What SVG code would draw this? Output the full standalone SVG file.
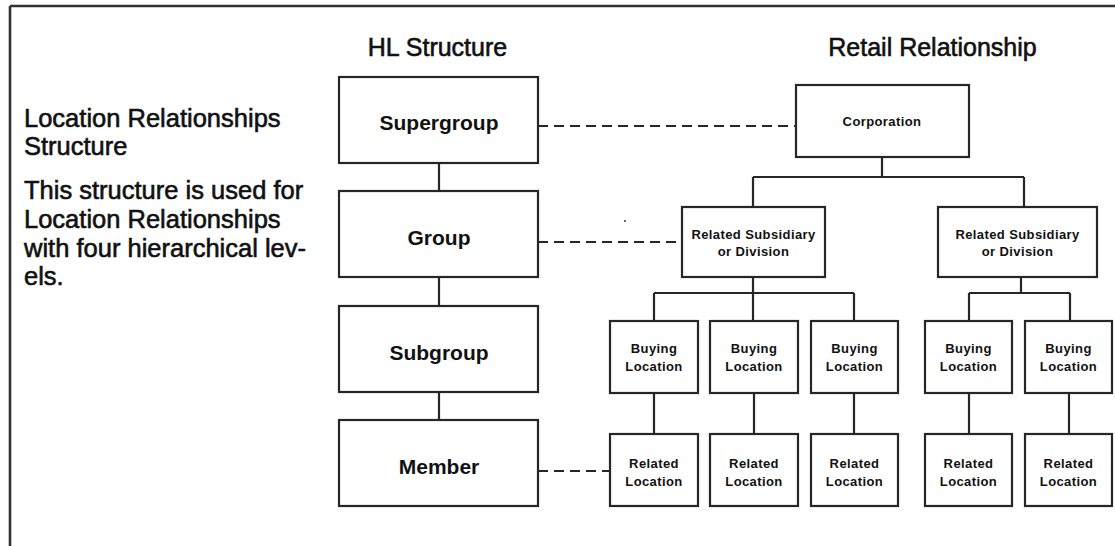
<svg xmlns="http://www.w3.org/2000/svg" width="1115" height="546" viewBox="0 0 1115 546">
<style>
.bx{fill:#fff;stroke:#262626;stroke-width:2.2}
.ln{fill:none;stroke:#262626;stroke-width:2.2}
.ds{fill:none;stroke:#262626;stroke-width:2.2;stroke-dasharray:10 6}
text{font-family:"Liberation Sans",Arial,sans-serif;fill:#111}
.hd{font-size:25px;stroke:#111;stroke-width:0.6}
.lt{font-size:25.5px;stroke:#111;stroke-width:0.6}
.big{font-size:21px;font-weight:bold;text-anchor:middle}
.sm{font-size:13px;font-weight:bold;text-anchor:middle;letter-spacing:0.4px}
</style>
<rect width="1115" height="546" fill="#fff"/>
<g id="frame">
<path d="M10 6H1115M10 6V546" fill="none" stroke="#333" stroke-width="2.6"/>
</g>
<g id="headers">
<text class="hd" x="437.5" y="56" text-anchor="middle">HL Structure</text>
<text class="hd" x="932.5" y="56" text-anchor="middle">Retail Relationship</text>
</g>
<g id="description">
<text class="lt" x="24" y="127">Location Relationships</text>
<text class="lt" x="24" y="155">Structure</text>
<text class="lt" x="24" y="199">This structure is used for</text>
<text class="lt" x="24" y="228">Location Relationships</text>
<text class="lt" x="24" y="257">with four hierarchical lev-</text>
<text class="lt" x="24" y="285">els.</text>
</g>
<g id="connectors">
<path class="ln" d="M439 163V191M439 277V306M439 392V420"/>
<path class="ds" d="M538 126H796M538 242H682M538 471H610"/>
<path class="ln" d="M882 157V177M753 177H1024M753 177V207M1024 177V207"/>
<path class="ln" d="M753 277V293M654 293H854M654 293V321M753 293V321M854 293V321"/>
<path class="ln" d="M1021 277V293M969 293H1070M969 293V321M1070 293V321"/>
<path class="ln" d="M654 393V434M754 393V434M854 393V434M969 393V434M1069 393V434"/>
<circle cx="625" cy="221" r="1" fill="#333"/>
</g>
<g id="supergroup"><rect class="bx" x="339" y="77" width="199" height="86"/><text class="big" x="439" y="130">Supergroup</text></g>
<g id="group"><rect class="bx" x="339" y="191" width="199" height="86"/><text class="big" x="439" y="245">Group</text></g>
<g id="subgroup"><rect class="bx" x="339" y="306" width="199" height="86"/><text class="big" x="439" y="360">Subgroup</text></g>
<g id="member"><rect class="bx" x="339" y="420" width="199" height="86"/><text class="big" x="439" y="474">Member</text></g>
<g id="corporation"><rect class="bx" x="796" y="85" width="173" height="72"/><text class="sm" x="882" y="126">Corporation</text></g>
<g id="subsidiary1"><rect class="bx" x="682" y="207" width="143" height="70"/><text class="sm" x="753.5" y="239">Related Subsidiary</text><text class="sm" x="753.5" y="256">or Division</text></g>
<g id="subsidiary2"><rect class="bx" x="938" y="207" width="159" height="70"/><text class="sm" x="1017.5" y="239">Related Subsidiary</text><text class="sm" x="1017.5" y="256">or Division</text></g>
<g id="buying1"><rect class="bx" x="610" y="321" width="88" height="72"/><text class="sm" x="654" y="353">Buying</text><text class="sm" x="654" y="371">Location</text></g>
<g id="buying2"><rect class="bx" x="710" y="321" width="88" height="72"/><text class="sm" x="754" y="353">Buying</text><text class="sm" x="754" y="371">Location</text></g>
<g id="buying3"><rect class="bx" x="811" y="321" width="87" height="72"/><text class="sm" x="854.5" y="353">Buying</text><text class="sm" x="854.5" y="371">Location</text></g>
<g id="buying4"><rect class="bx" x="925" y="321" width="87" height="72"/><text class="sm" x="968.5" y="353">Buying</text><text class="sm" x="968.5" y="371">Location</text></g>
<g id="buying5"><rect class="bx" x="1025" y="321" width="87" height="72"/><text class="sm" x="1068.5" y="353">Buying</text><text class="sm" x="1068.5" y="371">Location</text></g>
<g id="related1"><rect class="bx" x="610" y="434" width="88" height="72"/><text class="sm" x="654" y="468">Related</text><text class="sm" x="654" y="486">Location</text></g>
<g id="related2"><rect class="bx" x="710" y="434" width="88" height="72"/><text class="sm" x="754" y="468">Related</text><text class="sm" x="754" y="486">Location</text></g>
<g id="related3"><rect class="bx" x="811" y="434" width="87" height="72"/><text class="sm" x="854.5" y="468">Related</text><text class="sm" x="854.5" y="486">Location</text></g>
<g id="related4"><rect class="bx" x="925" y="434" width="87" height="72"/><text class="sm" x="968.5" y="468">Related</text><text class="sm" x="968.5" y="486">Location</text></g>
<g id="related5"><rect class="bx" x="1025" y="434" width="87" height="72"/><text class="sm" x="1068.5" y="468">Related</text><text class="sm" x="1068.5" y="486">Location</text></g>
</svg>
